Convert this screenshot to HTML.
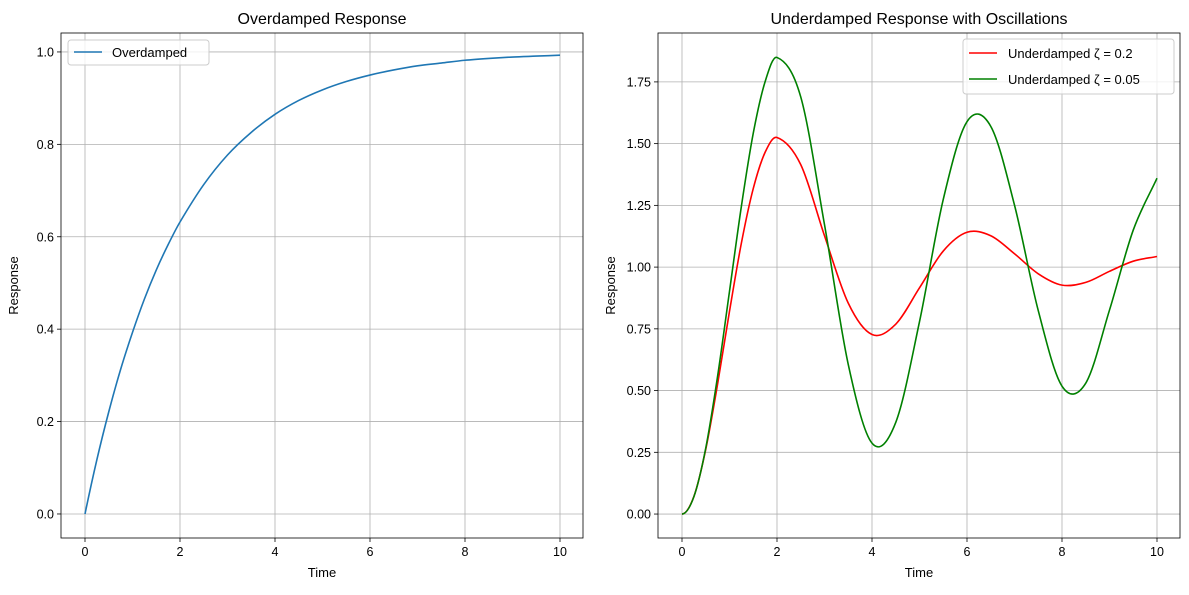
<!DOCTYPE html>
<html><head><meta charset="utf-8"><style>
body{margin:0;background:#fff}
svg text{font-family:"Liberation Sans","DejaVu Sans",sans-serif;fill:#000}
</style></head><body>
<svg id="fig" width="1189" height="590" xmlns="http://www.w3.org/2000/svg"></svg>
<script>
const times = [0,0.25,0.5,0.75,1,1.25,1.5,1.75,2,2.5,3,3.5,4,4.5,5,5.5,6,6.5,7,7.5,8,8.5,9,9.5,10];
const overdamped = [0,0.1175,0.221,0.313,0.393,0.465,0.528,0.583,0.632,0.713,0.777,0.826,0.865,0.895,0.918,0.936,0.950,0.961,0.970,0.976,0.982,0.986,0.989,0.991,0.993];
const under02 = [0,0.071,0.262,0.527,0.821,1.097,1.318,1.465,1.525,1.415,1.127,0.854,0.727,0.769,0.916,1.065,1.141,1.127,1.054,0.973,0.927,0.938,0.983,1.024,1.043];
const under005 = [0,0.070,0.267,0.559,0.902,1.246,1.542,1.751,1.849,1.689,1.172,0.606,0.287,0.371,0.779,1.274,1.589,1.570,1.251,0.824,0.518,0.530,0.826,1.150,1.36];
const xTicks = [0,2,4,6,8,10];
const yTicksLeft = [0.0,0.2,0.4,0.6,0.8,1.0];
const yTicksRight = [0.00,0.25,0.50,0.75,1.00,1.25,1.50,1.75];

const NS="http://www.w3.org/2000/svg";
const svg=document.getElementById('fig');
function mk(tag,attrs,parent){const e=document.createElementNS(NS,tag);for(const k in attrs)e.setAttribute(k,attrs[k]);(parent||svg).appendChild(e);return e;}
function hermite(ts,vs,xs,ys,m0){
  const n=ts.length,m=[];
  for(let i=0;i<n;i++){
    if(i===0)m.push(m0);
    else if(i===n-1)m.push((vs[i]-vs[i-1])/(ts[i]-ts[i-1]));
    else m.push((vs[i+1]-vs[i-1])/(ts[i+1]-ts[i-1]));
  }
  let d=`M${xs(ts[0])},${ys(vs[0])}`;
  for(let i=0;i<n-1;i++){const h=ts[i+1]-ts[i];
    d+=` C${xs(ts[i]+h/3)},${ys(vs[i]+m[i]*h/3)} ${xs(ts[i+1]-h/3)},${ys(vs[i+1]-m[i+1]*h/3)} ${xs(ts[i+1])},${ys(vs[i+1])}`;}
  return d;
}

function axes(cfg){
  const {L,R,T,B,ymin,ymax,yt,dec,title,name}=cfg;
  const g=mk('g',{});
  
  
  const xs=v=>L+24+(v/10)*475, ys=v=>B-(v-ymin)/(ymax-ymin)*(B-T);
  xTicks.forEach(v=>{const x=xs(v);
    const gl=mk('line',{x1:x,x2:x,y1:T,y2:B,stroke:'#b0b0b0','stroke-width':0.8},g);
    
    mk('line',{x1:x,x2:x,y1:B,y2:B+4,stroke:'#000','stroke-width':0.8},g);
    const t=mk('text',{x:x,y:B+18,'font-size':12.5,'text-anchor':'middle'},g);t.textContent=v;
    });
  yt.forEach(v=>{const y=ys(v);
    const gl=mk('line',{x1:L,x2:R,y1:y,y2:y,stroke:'#b0b0b0','stroke-width':0.8},g);
    
    mk('line',{x1:L-4,x2:L,y1:y,y2:y,stroke:'#000','stroke-width':0.8},g);
    const t=mk('text',{x:L-7,y:y+4.5,'font-size':12.5,'text-anchor':'end'},g);t.textContent=v.toFixed(dec);
    });
  const fr=mk('rect',{x:L,y:T,width:R-L,height:B-T,fill:'none',stroke:'#000','stroke-width':0.8},g);
  
  const tt=mk('text',{x:(L+R)/2,y:T-9,'font-size':16,'text-anchor':'middle'},g);tt.textContent=title;
  
  const xl=mk('text',{x:(L+R)/2,y:B+39,'font-size':13,'text-anchor':'middle'},g);xl.textContent='Time';
  
  const yl=mk('text',{x:0,y:0,'font-size':13,'text-anchor':'middle',transform:`translate(${L-43},${(T+B)/2}) rotate(-90)`},g);yl.textContent='Response';
  
  return {g,xs,ys};
}
function series(ax,vals,color,name,m0){
  const p=mk('path',{d:hermite(times,vals,ax.xs,ax.ys,m0),fill:'none',stroke:color,'stroke-width':1.6},ax.g);
  
  
}
const A=axes({L:61,R:583,T:33,B:538,ymin:-0.052,ymax:1.041,yt:yTicksLeft,dec:1,title:'Overdamped Response',name:'left-chart'});
series(A,overdamped,'#1f77b4','overdamped-line',(overdamped[1]-overdamped[0])/(times[1]-times[0])*1.06);
const Bx=axes({L:658,R:1180,T:33,B:538,ymin:-0.097,ymax:1.948,yt:yTicksRight,dec:2,title:'Underdamped Response with Oscillations',name:'right-chart'});
series(Bx,under02,'#ff0000','underdamped-02-line',0);
series(Bx,under005,'#008000','underdamped-005-line',0);

// legends
let lg=mk('g',{});

mk('rect',{x:68,y:40,width:141,height:25,rx:3,fill:'#fff','fill-opacity':0.8,stroke:'#ccc'},lg);
mk('line',{x1:74,x2:102,y1:52,y2:52,stroke:'#1f77b4','stroke-width':1.6},lg);
let t=mk('text',{x:112,y:57,'font-size':13},lg);t.textContent='Overdamped';

lg=mk('g',{});

mk('rect',{x:963,y:39,width:211,height:55,rx:3,fill:'#fff','fill-opacity':0.8,stroke:'#ccc'},lg);
mk('line',{x1:969,x2:997,y1:53,y2:53,stroke:'#ff0000','stroke-width':1.6},lg);
t=mk('text',{x:1008,y:58,'font-size':13},lg);t.textContent='Underdamped ζ = 0.2';

mk('line',{x1:969,x2:997,y1:79,y2:79,stroke:'#008000','stroke-width':1.6},lg);
t=mk('text',{x:1008,y:84,'font-size':13},lg);t.textContent='Underdamped ζ = 0.05';

</script>
</body></html>
